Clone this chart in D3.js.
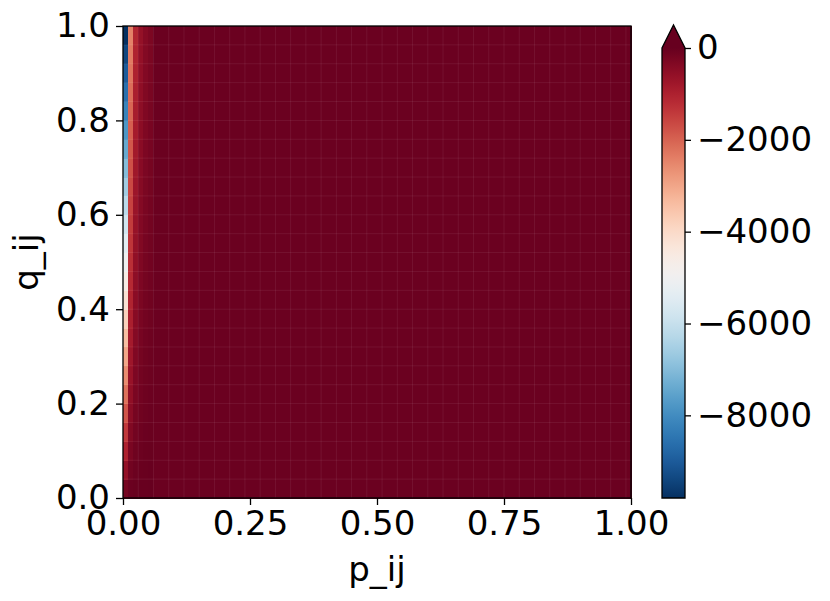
<!DOCTYPE html>
<html><head><meta charset="utf-8">
<script src="https://cdn.jsdelivr.net/npm/d3@7/dist/d3.min.js"></script>
<style>
html,body{margin:0;padding:0;background:#fff;}
text{font-family:"DejaVu Sans",sans-serif;fill:#000;}
</style></head>
<body><svg id="c" width="830" height="601"></svg>
<script>
// q bands (centers, bottom -> top), width 0.04
const qBands = [0.02,0.06,0.10,0.14,0.18,0.22,0.26,0.30,0.34,0.38,0.42,0.46,0.50,0.54,0.58,0.62,0.66,0.70,0.74,0.78,0.82,0.86,0.90,0.94,0.98];
// values of the first p columns (p cell width 0.01), bottom -> top
const col0 = [-200,-600,-1000,-1400,-1800,-2200,-2600,-3000,-3400,-3800,-4200,-4600,-5000,-5400,-5800,-6200,-6600,-7000,-7400,-7800,-8200,-8600,-9000,-9400,-9800];
const col1 = [-50,-150,-250,-350,-450,-550,-650,-750,-850,-950,-1050,-1150,-1250,-1350,-1450,-1550,-1650,-1750,-1850,-1950,-2050,-2150,-2250,-2350,-2450];
const col2 = [-22,-67,-111,-156,-200,-244,-289,-333,-378,-422,-467,-511,-556,-600,-644,-689,-733,-778,-822,-867,-911,-956,-1000,-1044,-1089];
const col3 = [-13,-38,-63,-88,-113,-138,-163,-188,-213,-238,-263,-288,-313,-338,-363,-388,-413,-438,-463,-488,-513,-538,-563,-588,-613];
const col4 = [-8,-24,-40,-56,-72,-88,-104,-120,-136,-152,-168,-184,-200,-216,-232,-248,-264,-280,-296,-312,-328,-344,-360,-376,-392];
const col5 = [-6,-17,-28,-39,-50,-61,-72,-83,-94,-106,-117,-128,-139,-150,-161,-172,-183,-194,-206,-217,-228,-239,-250,-261,-272];
const firstColumns = [col0,col1,col2,col3,col4,col5];
const farColumnValue = -50;   // remaining columns, essentially 0
const nColumns = 100;
const pCellWidth = 0.01, qCellHeight = 0.04;
const colorMin = -9800, colorMax = 0;
const xTicks = [0,0.25,0.5,0.75,1.0];
const yTicks = [0,0.2,0.4,0.6,0.8,1.0];
const cbTicks = [0,-2000,-4000,-6000,-8000];

const svg = d3.select("#c");
const L=123, R=631, T=26, B=498;
const x = d3.scaleLinear().domain([0,1]).range([L,R]);
const y = d3.scaleLinear().domain([0,1]).range([B,T]);
const color = v => d3.interpolateRdBu(Math.max(0,Math.min(1,(v-colorMax)/(colorMin-colorMax))));

// cells
const cells = [];
for (let j=0;j<nColumns;j++){
  for (let i=0;i<qBands.length;i++){
    const v = j<firstColumns.length ? firstColumns[j][i] : farColumnValue;
    cells.push({p0:j*pCellWidth, q:qBands[i], v});
  }
}
svg.append("g").attr("shape-rendering","crispEdges").selectAll("rect").data(cells).join("rect")
  .attr("x",d=>x(d.p0)).attr("width",x(pCellWidth)-x(0)+0.5)
  .attr("y",d=>y(d.q+qCellHeight/2)).attr("height",y(0)-y(qCellHeight)+0.5)
  .attr("fill",d=>color(d.v));
// faint seams along cell boundaries (as in the rendered mesh)
const seamG = svg.append("g").attr("stroke","#fff").attr("stroke-opacity",0.07).attr("stroke-width",1);
seamG.selectAll("line.v").data(d3.range(3,nColumns,3)).join("line")
  .attr("x1",j=>x(j*pCellWidth)).attr("x2",j=>x(j*pCellWidth)).attr("y1",T).attr("y2",B);
seamG.selectAll("line.h").data(qBands.slice(1)).join("line")
  .attr("y1",q=>y(q-qCellHeight/2)).attr("y2",q=>y(q-qCellHeight/2)).attr("x1",L).attr("x2",R);

// axes
const fs = 34;
const xa = svg.append("g").attr("transform",`translate(0,${B})`)
  .call(d3.axisBottom(x).tickValues(xTicks).tickFormat(d3.format(".2f")).tickSize(7).tickPadding(6));
const ya = svg.append("g").attr("transform",`translate(${L},0)`)
  .call(d3.axisLeft(y).tickValues(yTicks).tickFormat(d3.format(".1f")).tickSize(7).tickPadding(6));
[xa,ya].forEach(a=>{
  a.select(".domain").remove();
  a.selectAll("line").attr("stroke","#000").attr("stroke-width",1.3);
  a.selectAll("text").attr("font-size",fs).attr("font-family","DejaVu Sans").attr("fill","#000");
});
svg.append("rect").attr("x",L).attr("y",T).attr("width",R-L).attr("height",B-T)
  .attr("fill","none").attr("stroke","#000").attr("stroke-width",1.3);

svg.append("text").attr("x",(L+R)/2).attr("y",581).attr("text-anchor","middle").attr("font-size",fs).text("p_ij");
svg.append("text").attr("transform",`translate(38,${(T+B)/2}) rotate(-90)`).attr("text-anchor","middle").attr("font-size",fs).text("q_ij");

// colorbar
const cbL=662, cbR=685, cbT=48, cbB=498, tipY=25;
const cy = d3.scaleLinear().domain([colorMin,colorMax]).range([cbB,cbT]);
const defs = svg.append("defs");
const grad = defs.append("linearGradient").attr("id","cbg").attr("x1",0).attr("y1",1).attr("x2",0).attr("y2",0);
d3.range(0,1.0001,0.02).forEach(t=>{
  grad.append("stop").attr("offset",t).attr("stop-color",color(colorMin+(colorMax-colorMin)*t));
});
svg.append("rect").attr("x",cbL).attr("y",cbT).attr("width",cbR-cbL).attr("height",cbB-cbT).attr("fill","url(#cbg)");
svg.append("path").attr("d",`M${cbL},${cbT}L${(cbL+cbR)/2},${tipY}L${cbR},${cbT}Z`).attr("fill",color(colorMax));
svg.append("path").attr("d",`M${cbL},${cbB}L${cbL},${cbT}L${(cbL+cbR)/2},${tipY}L${cbR},${cbT}L${cbR},${cbB}Z`)
  .attr("fill","none").attr("stroke","#000").attr("stroke-width",1.3);
const ca = svg.append("g").attr("transform",`translate(${cbR},0)`)
  .call(d3.axisRight(cy).tickValues(cbTicks).tickFormat(d=>d3.format("d")(d).replace("-","\u2212")).tickSize(6).tickPadding(6));
ca.select(".domain").remove();
ca.selectAll("line").attr("stroke","#000").attr("stroke-width",1.3);
ca.selectAll("text").attr("font-size",fs).attr("font-family","DejaVu Sans").attr("fill","#000");
</script></body></html>
